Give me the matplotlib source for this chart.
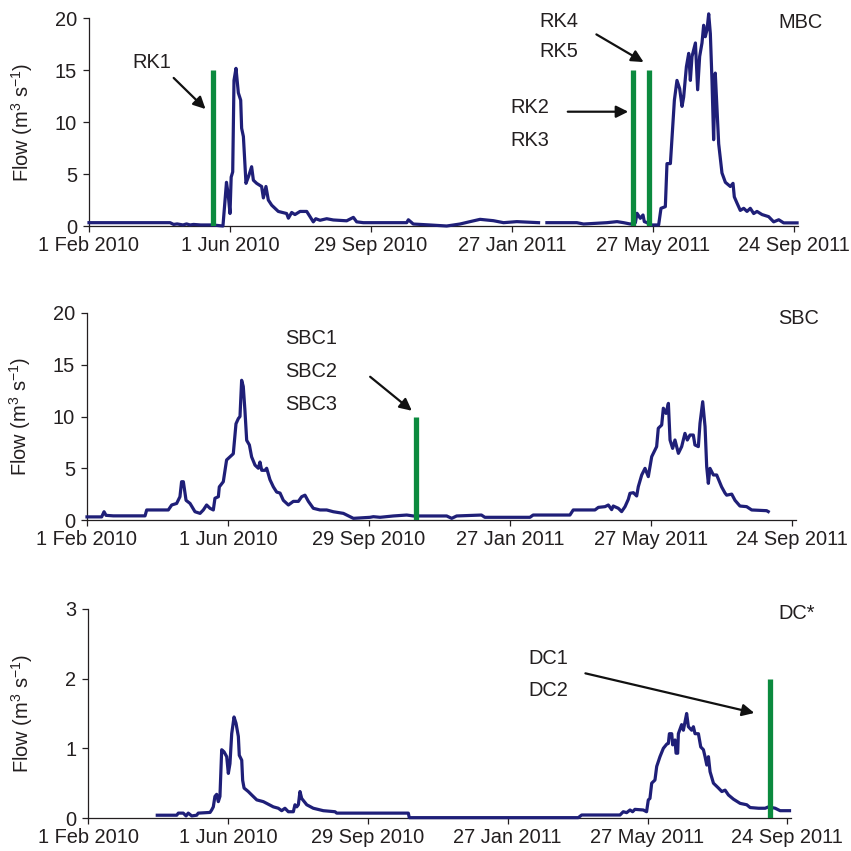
import numpy as np
import pandas as pd
import matplotlib
matplotlib.use("Agg")
import matplotlib.pyplot as plt

plt.rcParams['font.family'] = ['Liberation Sans', 'DejaVu Sans']
plt.rcParams['mathtext.fontset'] = 'custom'
plt.rcParams['mathtext.rm'] = 'Liberation Sans'
plt.rcParams['mathtext.it'] = 'Liberation Sans'
plt.rcParams['mathtext.default'] = 'regular'

START = pd.Timestamp('2010-02-01')

# ---------------- data (days after 1 Feb 2010, flow in m3/s) ----------------
mbc_day = [0, 69, 72, 75, 80, 83, 86, 89, 95, 105, 114, 117, 118.5, 120, 121, 122.3, 123.4, 125.1,
           127.1, 129.1, 129.9, 131.4, 133.6, 135.6, 138.4, 139.9, 142.7, 146.9, 148.4, 150.6,
           152.6, 155.5, 161.1, 168.2, 169.7, 172.5, 175.3, 179.6, 185.3, 188.1, 190.9, 193,
           196.6, 202.3, 207.9, 219.3, 225, 227.8, 233.5, 270.4, 271.8, 276, 290, 304.4, 315.7,
           324.3, 332.8, 344.2, 352.8, 364.1, 382.6, 386, 389.7, 415.2, 420.9, 440.8, 449.4,
           455, 460.7, 465, 466.4, 469.2, 471.5, 472.6, 474.9, 477.7, 484.8, 486.8, 490.5,
           491.9, 494.8, 498.2, 500.4, 502.7, 504.7, 506.1, 508.4, 510.4, 511.8, 513.2, 516.1,
           518, 519.7, 521.7, 523.1, 524.5, 526, 527.4, 528.8, 530.2, 531.6, 533, 534.5, 535.9,
           538.7, 541.6, 545.8, 548.1, 549.2, 551.5, 554.3, 557.2, 560, 562.8, 565.7, 568.5,
           572.8, 578.4, 582.7, 587, 591.2, 602.6]
mbc_flow = [0.32, 0.32, 0.15, 0.2, 0.1, 0.2, 0.1, 0.15, 0.1, 0.1, 0.0, 4.2, 3.0, 1.2, 4.7, 5.2, 14.0, 15.16,
            12.8, 12.1, 9.4, 8.6, 4.1, 4.7, 5.7, 4.4, 4.1, 3.8, 2.7, 3.8,
            2.5, 2.0, 1.4, 1.2, 0.75, 1.3, 1.1, 1.4, 1.4, 0.9, 0.4, 0.7,
            0.55, 0.7, 0.58, 0.5, 0.83, 0.4, 0.32, 0.32, 0.6, 0.19, 0.1, 0.0, 0.19,
            0.42, 0.64, 0.51, 0.32, 0.42, 0.32, np.nan, 0.32, 0.32, 0.19, 0.32, 0.42,
            0.32, 0.19, 0.32, 1.22, 0.74, 1.06, 0.42, 0.32, 0.1, 0.1, 1.7, 1.86,
            6.0, 6.0, 12.1, 14.0, 13.2, 11.5, 12.4, 15.3, 16.6, 14.0, 16.3, 17.6,
            13.1, 16.3, 17.6, 19.3, 18.2, 18.9, 20.4, 18.5, 14.0, 8.3, 14.7, 11.2, 7.9,
            5.1, 4.2, 3.8, 4.1, 2.8, 2.2, 1.5, 1.7, 1.4, 1.7, 1.2, 1.4,
            1.1, 0.9, 0.4, 0.6, 0.3, 0.3]

sbc_day = [0, 12.5, 14.5, 16.2, 22.4, 49.4, 50.8, 69.2, 72.1, 76.3, 79.1, 80.5, 82, 84.3, 87.7,
           91.9, 96.2, 99, 101.8, 104.7, 107.5, 108.9, 111.8, 112.6, 116, 118.8, 121.7, 124.5,
           126.8, 128.8, 130.2, 131.6, 133, 134.4, 135.9, 138.2, 140.1, 143, 145.8, 147.2,
           148.7, 151.5, 152.9, 155.7, 158.6, 161.4, 164.3, 167.1, 171.4, 175.6, 179.9, 182.7,
           185.5, 188.4, 192.6, 198.3, 204, 209.6, 218.2, 223.8, 226.7, 240.9, 243.7, 249.4,
           260.7, 272.1, 277.7, 306.1, 310.4, 314.6, 335.7, 338.6, 377, 379.7, 411, 413.8,
           432.3, 435.2, 440.9, 443.7, 446.5, 447.9, 452.2, 455, 457.9, 460.7, 462.1, 465,
           467.8, 469.2, 472.1, 474.9, 477.7, 479.1, 480.6, 482, 484.8, 486.2, 489.1, 490.5,
           492.8, 494.8, 496.2, 498.4, 500.4, 503.3, 506.1, 508.9, 510.9, 513.2, 516, 517.4,
           520.3, 521.7, 524, 526, 527.4, 528.8, 530.2, 533.1, 535.9, 540.1, 543, 544.4,
           548.7, 551.5, 555.7, 561.4, 565.7, 578.4, 579.8]
sbc_flow = [0.3, 0.3, 0.8, 0.45, 0.4, 0.4, 0.97, 0.97, 1.45, 1.6, 2.25, 3.7, 3.7, 1.9, 1.6,
            0.8, 0.64, 0.97, 1.45, 1.13, 0.97, 2.1, 2.25, 3.2, 3.7, 5.8, 6.1, 6.4,
            9.3, 9.8, 10.0, 13.5, 12.9, 10.6, 7.7, 7.25, 6.1, 5.3, 5.0, 5.6,
            4.8, 4.8, 5.0, 3.9, 3.2, 2.7, 2.6, 1.9, 1.45, 1.8, 1.8, 2.25,
            2.4, 1.8, 1.13, 0.97, 0.97, 0.8, 0.64, 0.32, 0.16, 0.26, 0.32, 0.26,
            0.39, 0.48, 0.39, 0.39, 0.16, 0.39, 0.48, 0.26, 0.26, 0.48, 0.48, 0.97,
            0.97, 1.22, 1.29, 1.45, 1.0, 1.35, 1.13, 0.81, 1.29, 2.0, 2.58, 2.64,
            2.32, 3.22, 4.35, 4.99, 4.19, 5.15, 6.12, 6.44, 7.09, 8.86, 9.18, 10.8,
            10.3, 11.27, 7.73, 6.92, 7.73, 6.44, 7.09, 8.37, 7.73, 8.21, 8.21, 7.25,
            7.09, 9.34, 11.43, 9.02, 5.15, 3.54, 4.99, 4.35, 4.35, 3.2, 2.6, 2.4,
            2.5, 1.9, 1.35, 1.29, 0.97, 0.9, 0.81]

dc_day = [59.2, 75.9, 77.3, 81.5, 83.9, 85.8, 88.8, 93.0, 94.4, 104.5, 105.9, 107.3, 108.7, 110.2,
          111.6, 113.0, 114.5, 116.5, 118.8, 120.2, 121.6, 123.1, 125.1, 126.8, 128.8, 129.6,
          131.7, 132.5, 133.7, 137.3, 140.3, 144.6, 150.2, 153.1, 158.8, 163.1, 166, 168.8,
          171.7, 176, 177.4, 178.9, 180.3, 181.7, 183.2, 187.5, 193.1, 201.7, 211.8, 213.2,
          274.7, 275.5, 420.6, 423.5, 456.4, 459.2, 462.1, 465, 467.2, 469.2, 476.4, 479.2,
          480.7, 482.1, 483.6, 486.4, 487.9, 490.7, 493.6, 496.5, 497.9, 498.8, 500.8, 501.6,
          503.6, 504.5, 505.9, 506.5, 509.3, 510.8, 512.2, 513.6, 515.1, 517.9, 519.4, 520.8,
          523.7, 525.7, 528, 529.4, 530.9, 532.3, 533.7, 536.6, 540.9, 543.8, 546.6, 549.5,
          553.8, 559.5, 565.2, 568.1, 575.3, 581, 583.9, 589.6, 593.8, 601.9]
dc_flow = [0.04, 0.04, 0.07, 0.07, 0.03, 0.07, 0.03, 0.04, 0.07, 0.08, 0.115, 0.16, 0.31, 0.34,
           0.235, 0.31, 0.98, 0.95, 0.88, 0.64, 0.78, 1.21, 1.45, 1.36, 1.17, 0.9,
           0.83, 0.54, 0.43, 0.38, 0.33, 0.26, 0.235, 0.21, 0.16, 0.14, 0.105, 0.14,
           0.09, 0.09, 0.19, 0.16, 0.19, 0.38, 0.28, 0.19, 0.14, 0.105, 0.09, 0.07,
           0.07, 0.005, 0.005, 0.043, 0.043, 0.09, 0.077, 0.115, 0.09, 0.124, 0.115, 0.09,
           0.26, 0.28, 0.5, 0.545, 0.74, 0.88, 1.0, 1.06, 1.07, 1.21, 1.21, 1.05,
           1.12, 0.93, 0.93, 1.21, 1.34, 1.26, 1.38, 1.5, 1.31, 1.26, 1.31, 1.21,
           1.21, 1.02, 0.98, 0.88, 0.76, 0.88, 0.665, 0.5, 0.43, 0.38, 0.4, 0.33,
           0.27, 0.21, 0.19, 0.15, 0.14, 0.14, 0.16, 0.14, 0.105, 0.105]

# sampling events (green bars)
mbc_event_day = [105.2, 463, 476.3]
mbc_event_h = [15, 15, 15]
sbc_event_day = [280]
sbc_event_h = [10]
dc_event_day = [585.3]
dc_event_h = [2]

tick_days = [0, 120, 240, 360, 480, 600]
tick_labels = ['1 Feb 2010', '1 Jun 2010', '29 Sep 2010', '27 Jan 2011', '27 May 2011', '24 Sep 2011']

# ---------------- figure ----------------
W = H = 851
fig = plt.figure(figsize=(W / 100, H / 100), dpi=100)

LINE_C = '#1f1f78'
BAR_C = '#0b8a3e'
TXT_C = '#231f20'
FS = 14.4


def px_axes(left, top, right, bottom):
    return fig.add_axes([left / W, 1 - bottom / H, (right - left) / W, (bottom - top) / H])


def to_dates(days):
    return START + pd.to_timedelta(np.asarray(days, dtype=float), unit='D')


def style(ax, ymax, yticks):
    ax.set_xlim(to_dates([0])[0], to_dates([603])[0])
    ax.set_ylim(0, ymax)
    for s in ['top', 'right']:
        ax.spines[s].set_visible(False)
    for s in ['left', 'bottom']:
        ax.spines[s].set_linewidth(0.9)
        ax.spines[s].set_color('#231f20')
    ax.set_xticks(to_dates(tick_days))
    ax.set_xticklabels(tick_labels)
    ax.set_yticks(yticks)
    ax.set_yticklabels([str(t) for t in yticks])
    ax.tick_params(axis='both', direction='out', length=4.5, width=0.9, colors='#231f20',
                   labelsize=FS, labelcolor=TXT_C)
    ax.tick_params(axis='y', pad=4)
    ax.tick_params(axis='x', pad=3)
    ax.set_ylabel('Flow (m$^3$ s$^{-1}$)', fontsize=FS, color=TXT_C)
    ax.yaxis.set_label_coords(-0.076, 0.5)
    ax.patch.set_alpha(0)


ax1 = px_axes(89, 18, 89 + 603 * 1.175, 226)
ax2 = px_axes(87, 313, 87 + 603 * 1.175, 520)
ax3 = px_axes(88.3, 609, 88.3 + 603 * 1.165, 818)

for ax, d, f, ed, eh, ymax, yt in [
        (ax1, mbc_day, mbc_flow, mbc_event_day, mbc_event_h, 20, [0, 5, 10, 15, 20]),
        (ax2, sbc_day, sbc_flow, sbc_event_day, sbc_event_h, 20, [0, 5, 10, 15, 20]),
        (ax3, dc_day, dc_flow, dc_event_day, dc_event_h, 3, [0, 1, 2, 3])]:
    ax.plot(to_dates(d), f, color=LINE_C, lw=2.3, solid_joinstyle='round', zorder=3, clip_on=False)
    ax.vlines(to_dates(ed), 0, eh, color=BAR_C, lw=3.8, zorder=4)
    style(ax, ymax, yt)


def label(x, y_base, s, ha='center'):
    fig.text(x / W, 1 - y_base / H, s, ha=ha, va='baseline', fontsize=FS, color=TXT_C)


def arrow(x0, y0, x1, y1):
    fig.add_artist(matplotlib.patches.FancyArrowPatch(
        (x0 / W, 1 - y0 / H), (x1 / W, 1 - y1 / H), transform=fig.transFigure,
        arrowstyle='-|>', mutation_scale=18, lw=1.6, color='#111111'))


# panel 1 annotations
label(778, 28, 'MBC', ha='left')
label(152, 68, 'RK1')
arrow(171.7, 76, 207.5, 111)
label(559, 27, 'RK4')
label(559, 57, 'RK5')
arrow(594, 33, 646, 63.5)
label(530, 113, 'RK2')
label(530, 146, 'RK3')
arrow(565, 111.7, 631, 111.7)

# panel 2 annotations
label(778, 324, 'SBC', ha='left')
label(311, 344, 'SBC1')
label(311, 377, 'SBC2')
label(311, 410, 'SBC3')
arrow(368, 375, 414, 412.5)

# panel 3 annotations
label(778, 619, 'DC*', ha='left')
label(548, 664, 'DC1')
label(548, 696, 'DC2')
arrow(582.7, 672.7, 757, 713.6)

fig.savefig('out.png', dpi=100)
